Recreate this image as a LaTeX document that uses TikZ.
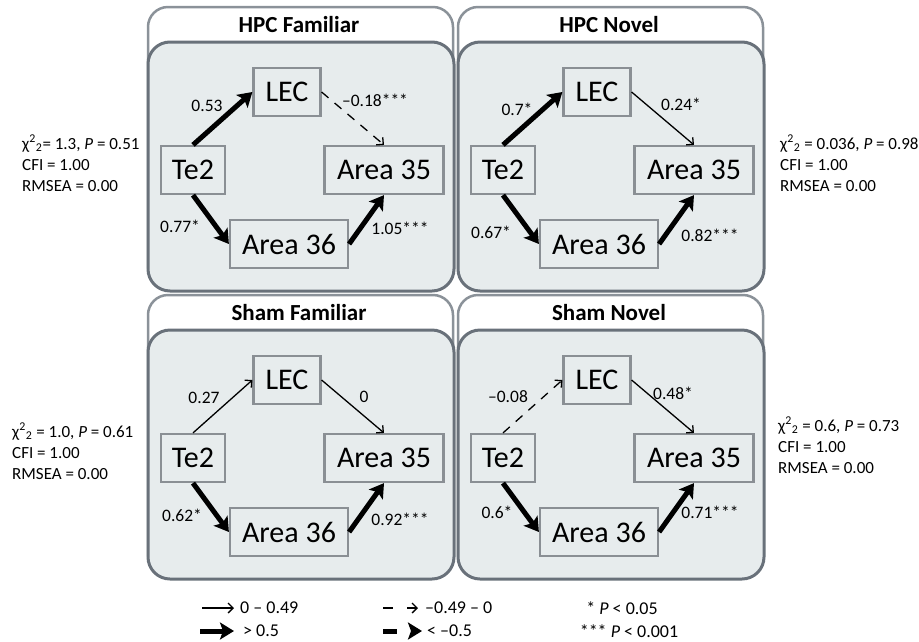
\documentclass[tikz,border=0pt]{standalone}
\usepackage{fontspec}
\setmainfont{Carlito}
\usetikzlibrary{arrows.meta,positioning}
\definecolor{panelfill}{HTML}{E7ECED}
\definecolor{panelline}{HTML}{69717A}
\definecolor{frameline}{HTML}{8B9299}
\definecolor{boxline}{HTML}{8A8F94}

\begin{document}
\begin{tikzpicture}[x=1pt, y=-1pt,
  frame/.style={draw=frameline, line width=2.5pt, rounded corners=20pt, fill=white},
  panel/.style={draw=panelline, line width=3pt, rounded corners=22pt, fill=panelfill},
  region/.style={draw=boxline, line width=2.2pt, fill=panelfill, minimum height=48pt, inner sep=0pt, font=\fontsize{30}{32}\selectfont},
  title/.style={font=\bfseries\fontsize{23}{25}\selectfont},
  coef/.style={font=\fontsize{17.5}{19}\selectfont},
  fitstat/.style={anchor=north west, align=left, inner sep=0pt, font=\fontsize{17}{21}\selectfont},
  legtext/.style={inner sep=0pt, font=\fontsize{18}{20}\selectfont},
  lowarr/.style={-{Straight Barb[length=5pt,width=10pt]}, line width=1.3pt},
  higharr/.style={-{Stealth[length=14pt,width=17pt,inset=3pt]}, line width=5pt},
  negarr/.style={lowarr, dash pattern=on 9pt off 8pt}
]
\useasboundingbox (0,0) rectangle (919,641);

% four panels with the same layout
\foreach \p/\dx/\dy/\name in {hf/0/0/HPC Familiar, hn/310/0/HPC Novel, sf/0/288/Sham Familiar, sn/310/288/Sham Novel}{
  \begin{scope}[shift={(\dx,\dy)}]
    \draw[frame] (148,7) rectangle (453,286);
    \draw[panel] (148,42) rectangle (454,291);
    \node[title] (\p-title) at (299,25) {\name};
    \node[region, minimum width=67pt] (\p-lec) at (287,92) {LEC};
    \node[region, minimum width=64pt] (\p-te2) at (193,170) {Te2};
    \node[region, minimum width=119pt] (\p-a35) at (384,170) {Area 35};
    \node[region, minimum width=118pt] (\p-a36) at (289,244) {Area 36};
  \end{scope}
}

% HPC Familiar
\draw[higharr] (hf-te2.north) -- (hf-lec.west);
\draw[negarr] (hf-lec.east) -- (hf-a35.north);
\draw[higharr] (hf-te2.south) -- (hf-a36.west);
\draw[higharr] (hf-a36.east) -- (hf-a35.south);
\node[coef] (hf-c1) at (207,106) {0.53};
\node[coef] (hf-c2) at (375,100) {–0.18***};
\node[coef] (hf-c3) at (180,226) {0.77*};
\node[coef] (hf-c4) at (400,228) {1.05***};

% HPC Novel
\draw[higharr] (hn-te2.north) -- (hn-lec.west);
\draw[lowarr] (hn-lec.east) -- (hn-a35.north);
\draw[higharr] (hn-te2.south) -- (hn-a36.west);
\draw[higharr] (hn-a36.east) -- (hn-a35.south);
\node[coef] (hn-c1) at (517,109) {0.7*};
\node[coef] (hn-c2) at (681,104) {0.24*};
\node[coef] (hn-c3) at (491,232) {0.67*};
\node[coef] (hn-c4) at (710,235) {0.82***};

% Sham Familiar
\draw[lowarr] (sf-te2.north) -- (sf-lec.west);
\draw[lowarr] (sf-lec.east) -- (sf-a35.north);
\draw[higharr] (sf-te2.south) -- (sf-a36.west);
\draw[higharr] (sf-a36.east) -- (sf-a35.south);
\node[coef] (sf-c1) at (204,398) {0.27};
\node[coef] (sf-c2) at (364,397) {0};
\node[coef] (sf-c3) at (182,515) {0.62*};
\node[coef] (sf-c4) at (400,519) {0.92***};

% Sham Novel
\draw[negarr] (sn-te2.north) -- (sn-lec.west);
\draw[lowarr] (sn-lec.east) -- (sn-a35.north);
\draw[higharr] (sn-te2.south) -- (sn-a36.west);
\draw[higharr] (sn-a36.east) -- (sn-a35.south);
\node[coef] (sn-c1) at (508,397) {–0.08};
\node[coef] (sn-c2) at (673,393) {0.48*};
\node[coef] (sn-c3) at (497,512) {0.6*};
\node[coef] (sn-c4) at (710,512) {0.71***};

% model fit
\node[fitstat] (hf-fit) at (22,135) {χ\textsuperscript{2}\textsubscript{2}= 1.3, \textit{P} = 0.51\\CFI = 1.00\\RMSEA = 0.00};
\node[fitstat] (hn-fit) at (780,135) {χ\textsuperscript{2}\textsubscript{2} = 0.036, \textit{P} = 0.98\\CFI = 1.00\\RMSEA = 0.00};
\node[fitstat] (sf-fit) at (12,423) {χ\textsuperscript{2}\textsubscript{2} = 1.0, \textit{P} = 0.61\\CFI = 1.00\\RMSEA = 0.00};
\node[fitstat] (sn-fit) at (778,417) {χ\textsuperscript{2}\textsubscript{2} = 0.6, \textit{P} = 0.73\\CFI = 1.00\\RMSEA = 0.00};

% legend
\coordinate (lg-a1) at (202,608);
\coordinate (lg-b1) at (234,608);
\coordinate (lg-a2) at (200,631);
\coordinate (lg-b2) at (234,631);
\coordinate (lg-a3) at (383,608);
\coordinate (lg-b3) at (418,608);
\coordinate (lg-a4) at (383,631);
\coordinate (lg-b4) at (422,631);
\draw[lowarr] (lg-a1) -- (lg-b1);
\draw[higharr] (lg-a2) -- (lg-b2);
\draw[lowarr, dash pattern=on 10pt off 14pt] (lg-a3) -- (lg-b3);
\draw[higharr, dash pattern=on 14pt off 30pt] (lg-a4) -- (lg-b4);
\node[legtext, anchor=west] (lg-t1) at (240,608) {0 – 0.49};
\node[legtext, anchor=west] (lg-t2) at (243,631) {> 0.5};
\node[legtext, anchor=west] (lg-t3) at (425,608) {–0.49 – 0};
\node[legtext, anchor=west] (lg-t4) at (427,631) {< –0.5};
\node[legtext] (lg-t5) at (622,608) {* \textit{P} < 0.05};
\node[legtext] (lg-t6) at (629,631) {*** \textit{P} < 0.001};
\end{tikzpicture}
\end{document}
